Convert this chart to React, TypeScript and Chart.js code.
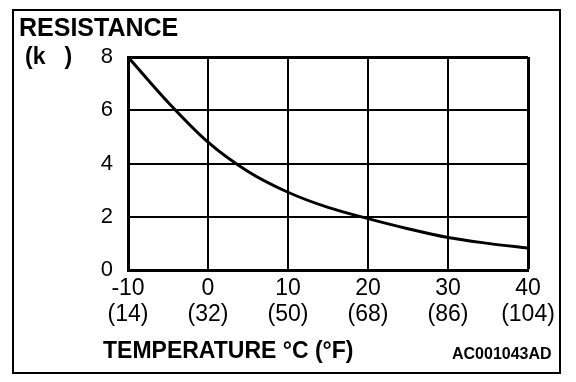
import React, { useEffect, useRef } from "react";
import { Chart, registerables } from "chart.js";

Chart.register(...registerables);

// Data
const temperaturesC = [-10, -5, 0, 5, 10, 15, 20, 25, 30, 35, 40];
const resistanceK = [8.0, 6.3, 4.8, 3.7, 2.92, 2.35, 1.93, 1.55, 1.22, 1.0, 0.82];
const xTicksC = [-10, 0, 10, 20, 30, 40];
const xTicksF = ["(14)", "(32)", "(50)", "(68)", "(86)", "(104)"];
const yTicks = [0, 2, 4, 6, 8];

const FONT = "'Liberation Sans', Arial, Helvetica, sans-serif";

const decorPlugin = {
  id: "decor",
  afterDraw(chart: any) {
    const ctx = chart.ctx as CanvasRenderingContext2D;
    ctx.save();
    // outer frame
    ctx.strokeStyle = "#000";
    ctx.lineWidth = 2;
    ctx.strokeRect(13, 10, 547, 363);
    ctx.fillStyle = "#000";
    ctx.textBaseline = "alphabetic";
    ctx.textAlign = "left";
    ctx.font = `bold 25px ${FONT}`;
    ctx.fillText("RESISTANCE", 19, 36);
    ctx.font = `bold 23px ${FONT}`;
    ctx.fillText("(k   )", 25, 64);
    ctx.font = `bold 23px ${FONT}`;
    ctx.fillText("TEMPERATURE °C (°F)", 103, 358);
    ctx.font = `bold 16px ${FONT}`;
    ctx.fillText("AC001043AD", 452, 359);
    ctx.restore();
  },
};

export default function App() {
  const canvasRef = useRef<HTMLCanvasElement | null>(null);

  useEffect(() => {
    if (!canvasRef.current) return;
    const chart = new Chart(canvasRef.current, {
      type: "line",
      data: {
        datasets: [
          {
            data: temperaturesC.map((t, i) => ({ x: t, y: resistanceK[i] })),
            borderColor: "#000",
            borderWidth: 3,
            pointRadius: 0,
            cubicInterpolationMode: "monotone",
            fill: false,
          },
        ],
      },
      options: {
        responsive: false,
        animation: false,
        layout: { padding: { left: 0, right: 48, top: 57, bottom: 0 } },
        plugins: { legend: { display: false }, tooltip: { enabled: false }, title: { display: false } },
        scales: {
          x: {
            type: "linear",
            min: xTicksC[0],
            max: xTicksC[xTicksC.length - 1],
            afterBuildTicks: (scale: any) => {
              scale.ticks = xTicksC.map((v) => ({ value: v }));
            },
            afterFit: (scale: any) => {
              scale.height = 112;
            },
            ticks: {
              autoSkip: false,
              maxRotation: 0,
              padding: 5,
              color: "#000",
              font: { family: FONT, size: 23, lineHeight: 1.15 },
              callback: (v: any) => {
                const i = xTicksC.indexOf(Number(v));
                return i >= 0 ? [String(v), xTicksF[i]] : "";
              },
            },
            grid: {
              color: "#000",
              lineWidth: (c: any) => (c.index === xTicksC.length - 1 ? 3 : 2),
              drawTicks: false,
            },
            border: { display: true, color: "#000", width: 3 },
          },
          y: {
            type: "linear",
            min: yTicks[0],
            max: yTicks[yTicks.length - 1],
            afterBuildTicks: (scale: any) => {
              scale.ticks = yTicks.map((v) => ({ value: v }));
            },
            afterFit: (scale: any) => {
              scale.width = 128;
            },
            ticks: {
              padding: 15,
              color: "#000",
              font: { family: FONT, size: 22 },
            },
            grid: {
              color: "#000",
              lineWidth: (c: any) => (c.index === yTicks.length - 1 ? 3 : 2),
              drawTicks: false,
            },
            border: { display: true, color: "#000", width: 3 },
          },
        },
      },
      plugins: [decorPlugin],
    } as any);
    return () => chart.destroy();
  }, []);

  return (
    <div style={{ position: "fixed", left: 0, top: 0, width: 576, height: 382, background: "#fff" }}>
      <canvas ref={canvasRef} width={576} height={382} style={{ width: 576, height: 382, display: "block" }} />
    </div>
  );
}
